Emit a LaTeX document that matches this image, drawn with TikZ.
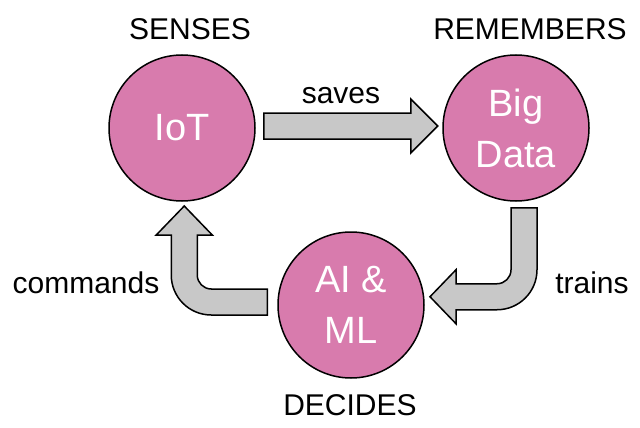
\documentclass[tikz,border=0pt]{standalone}
\usepackage{fontspec}
\setmainfont{Liberation Sans}
\usetikzlibrary{positioning}
\definecolor{petal}{RGB}{216,123,173}
\definecolor{shaft}{RGB}{200,200,200}
\tikzset{
    stage/.style={circle,draw=black,line width=1.5pt,fill=petal,text=white,minimum size=146pt,inner sep=0pt,align=center,font=\fontsize{38}{51}\selectfont},
    tag/.style={inner sep=0pt,anchor=base,font=\fontsize{30}{36}\selectfont},
    fatarrow/.style={draw=black,line width=1.5pt,fill=shaft,line join=miter}
}

\begin{document}
\begin{tikzpicture}[x=1pt,y=-1pt]
    \useasboundingbox (0,0) rectangle (640,428);
    \node[stage] (iot) at (182,128) {IoT};
    \node[stage] (bigdata) at (516,128) {Big\\Data};
    \node[stage] (aiml) at (351,305) {AI \&\\ML};
    \node[tag] (senses) at (190,40) {SENSES};
    \node[tag] (remembers) at (530,40) {REMEMBERS};
    \node[tag] (decides) at (350,415) {DECIDES};
    \node[tag] (saves) at (341,103) {saves};
    \node[tag] (trains) at (592,293) {trains};
    \node[tag] (commands) at (86,293) {commands};
    \draw[fatarrow] ([shift={(8,-15)}]iot.east) -- ++(147,0) -- ++(0,-14) -- ++(27,27) -- ++(-27,27) -- ++(0,-14) -- ++(-147,0) -- cycle;
    \draw[fatarrow] ([shift={(-5,6)}]bigdata.south) -- ++(26,0) -- ++(0,62) arc[start angle=0,end angle=90,radius=40] -- ++(-41,0) -- ++(0,14) -- ++(-26,-27) -- ++(26,-27) -- ++(0,14) -- ++(41,0) arc[start angle=90,end angle=0,radius=14] -- cycle;
    \draw[fatarrow] ([shift={(-10,-16)}]aiml.west) -- ++(0,26) -- ++(-56,0) arc[start angle=90,end angle=180,radius=40] -- ++(0,-40) -- ++(-15,0) -- ++(28,-29) -- ++(28,29) -- ++(-15,0) -- ++(0,40) arc[start angle=180,end angle=90,radius=14] -- cycle;
\end{tikzpicture}
\end{document}
